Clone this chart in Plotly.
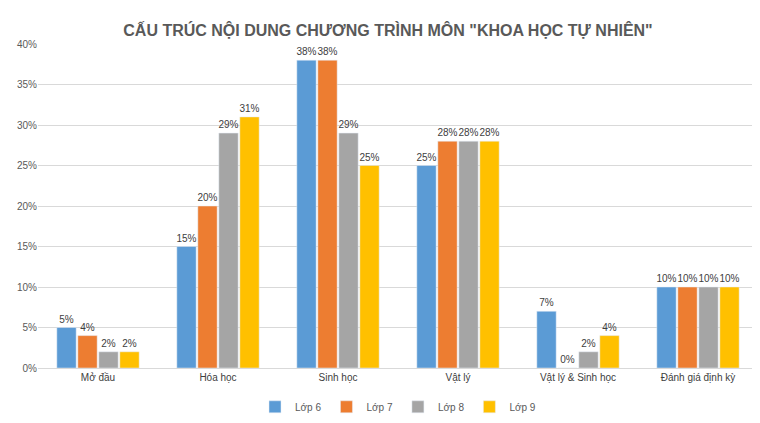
import plotly.graph_objs as go

categories = ['Mở đầu', 'Hóa học', 'Sinh học', 'Vật lý', 'Vật lý & Sinh học', 'Đánh giá định kỳ']
lop6 = [5, 15, 38, 25, 7, 10]
lop7 = [4, 20, 38, 28, 0, 10]
lop8 = [2, 29, 29, 28, 2, 10]
lop9 = [2, 31, 25, 28, 4, 10]

series = [('Lớp 6', lop6, '#5B9BD5'), ('Lớp 7', lop7, '#ED7D31'),
          ('Lớp 8', lop8, '#A5A5A5'), ('Lớp 9', lop9, '#FFC000')]

data = [go.Bar(x=categories, y=vals, name=name, marker_color=color,
               text=[f'{v}%' for v in vals], textposition='outside',
               textangle=0, constraintext='none',
               textfont=dict(size=10, color='#404040', family='Arial, Liberation Sans'),
               cliponaxis=False)
        for name, vals, color in series]

layout = go.Layout(
    title=dict(text='<b>CẤU TRÚC NỘI DUNG CHƯƠNG TRÌNH MÔN "KHOA HỌC TỰ NHIÊN"</b>',
               x=0.5, y=0.96, font=dict(size=16, color='#595959')),
    width=760, height=423,
    margin=dict(l=30, r=10, t=36, b=20),
    paper_bgcolor='white', plot_bgcolor='white',
    font=dict(family='Arial, Liberation Sans', color='#404040', size=10),
    bargap=0.3, bargroupgap=0.08,
    yaxis=dict(range=[0, 40], dtick=5, ticksuffix='%', gridcolor='#D9D9D9',
               zeroline=False, showline=False, tickfont=dict(size=10, color='#595959'),
               automargin=False),
    xaxis=dict(showline=True, linecolor='#D9D9D9', tickfont=dict(size=10, color='#404040'),
               automargin=False),
    legend=dict(orientation='h', x=0.5, xanchor='center', y=-0.075, yanchor='top',
                font=dict(size=10, color='#595959')),
)

fig = go.Figure(data=data, layout=layout)
fig.write_html('out.html')
